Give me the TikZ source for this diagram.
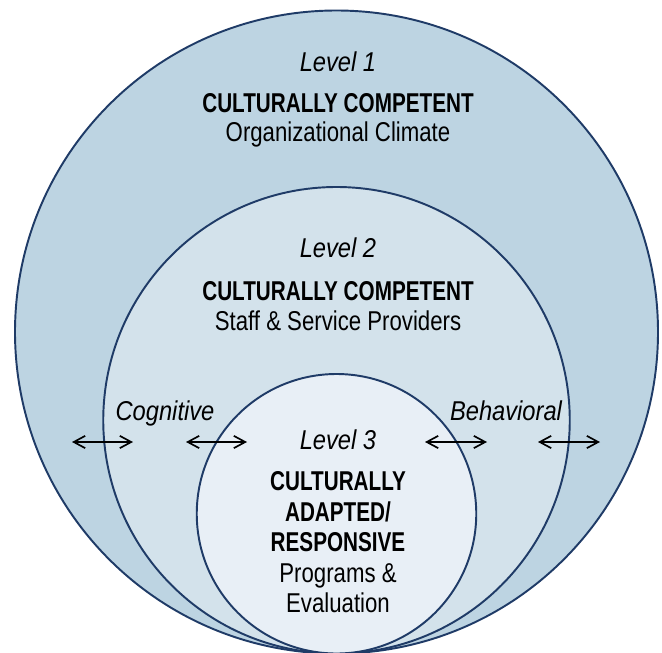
\documentclass[tikz,border=0pt]{standalone}
\usepackage{fontspec}
\setmainfont{Liberation Sans}[FakeStretch=0.815,BoldFeatures={FakeStretch=0.76},ItalicFeatures={FakeStretch=0.87}]
\usetikzlibrary{arrows.meta,positioning}
\definecolor{ringline}{HTML}{1F3B67}
\definecolor{outerblue}{HTML}{BDD4E2}
\definecolor{midblue}{HTML}{D3E2EB}
\definecolor{innerblue}{HTML}{E8EFF6}
\tikzset{txt/.style={inner sep=0pt,text height=11pt,text depth=3pt,font=\fontsize{15.5}{18}\selectfont}}
\tikzset{lvl/.style={txt,font=\fontsize{15.5}{18}\selectfont\itshape}}
\tikzset{head/.style={txt,font=\fontsize{15.5}{18}\selectfont\bfseries}}
\tikzset{ring/.style={draw=ringline,line width=1.1pt}}
\tikzset{twoway/.style={line width=0.95pt,{Straight Barb[length=6.5pt,width=7pt]}-{Straight Barb[length=6.5pt,width=7pt]}}}

\begin{document}
\begin{tikzpicture}[x=0.02cm,y=-0.02cm,node distance=0.6cm]
    \useasboundingbox (0,0) rectangle (662,652);
    \fill[white] (0,0) rectangle (662,652);

    % nested levels, all touching at the bottom
    \draw[ring,fill=outerblue] (336.5,332) circle (321.5);
    \draw[ring,fill=midblue] (336.5,420.25) circle (233.25);
    \draw[ring,fill=innerblue] (336.5,513.75) circle (139.75);

    \node[lvl] (lvlone) at (338,64) {Level 1};
    \node[head,below of=lvlone,node distance=0.82cm] (ccone) {CULTURALLY COMPETENT};
    \node[txt,below of=ccone,node distance=0.58cm] (climate) {Organizational Climate};

    \node[lvl] (lvltwo) at (338,250) {Level 2};
    \node[head,below of=lvltwo,node distance=0.86cm] (cctwo) {CULTURALLY COMPETENT};
    \node[txt,below of=cctwo] (staff) {Staff \& Service Providers};

    \node[lvl] (lvlthree) at (338,442) {Level 3};
    \node[head,below of=lvlthree,node distance=0.82cm] (cult) {CULTURALLY};
    \node[head,below of=cult,node distance=0.62cm] (adapt) {ADAPTED/};
    \node[head,below of=adapt] (resp) {RESPONSIVE};
    \node[txt,below of=resp,node distance=0.62cm] (progs) {Programs \&};
    \node[txt,below of=progs] (evalu) {Evaluation};

    \node[lvl] (cog) at (165,413) {Cognitive};
    \node[lvl] (beh) at (506,413) {Behavioral};

    \coordinate (cogA) at (72,442);
    \coordinate (cogB) at (133,442);
    \coordinate (cogC) at (186,442);
    \coordinate (cogD) at (247,442);
    \coordinate (behA) at (425,442);
    \coordinate (behB) at (487,442);
    \coordinate (behC) at (538,442);
    \coordinate (behD) at (600,442);

        \path[draw,twoway] (cogA) -- (cogB);
        \path[draw,twoway] (cogC) -- (cogD);
        \path[draw,twoway] (behA) -- (behB);
        \path[draw,twoway] (behC) -- (behD);
\end{tikzpicture}
\end{document}
